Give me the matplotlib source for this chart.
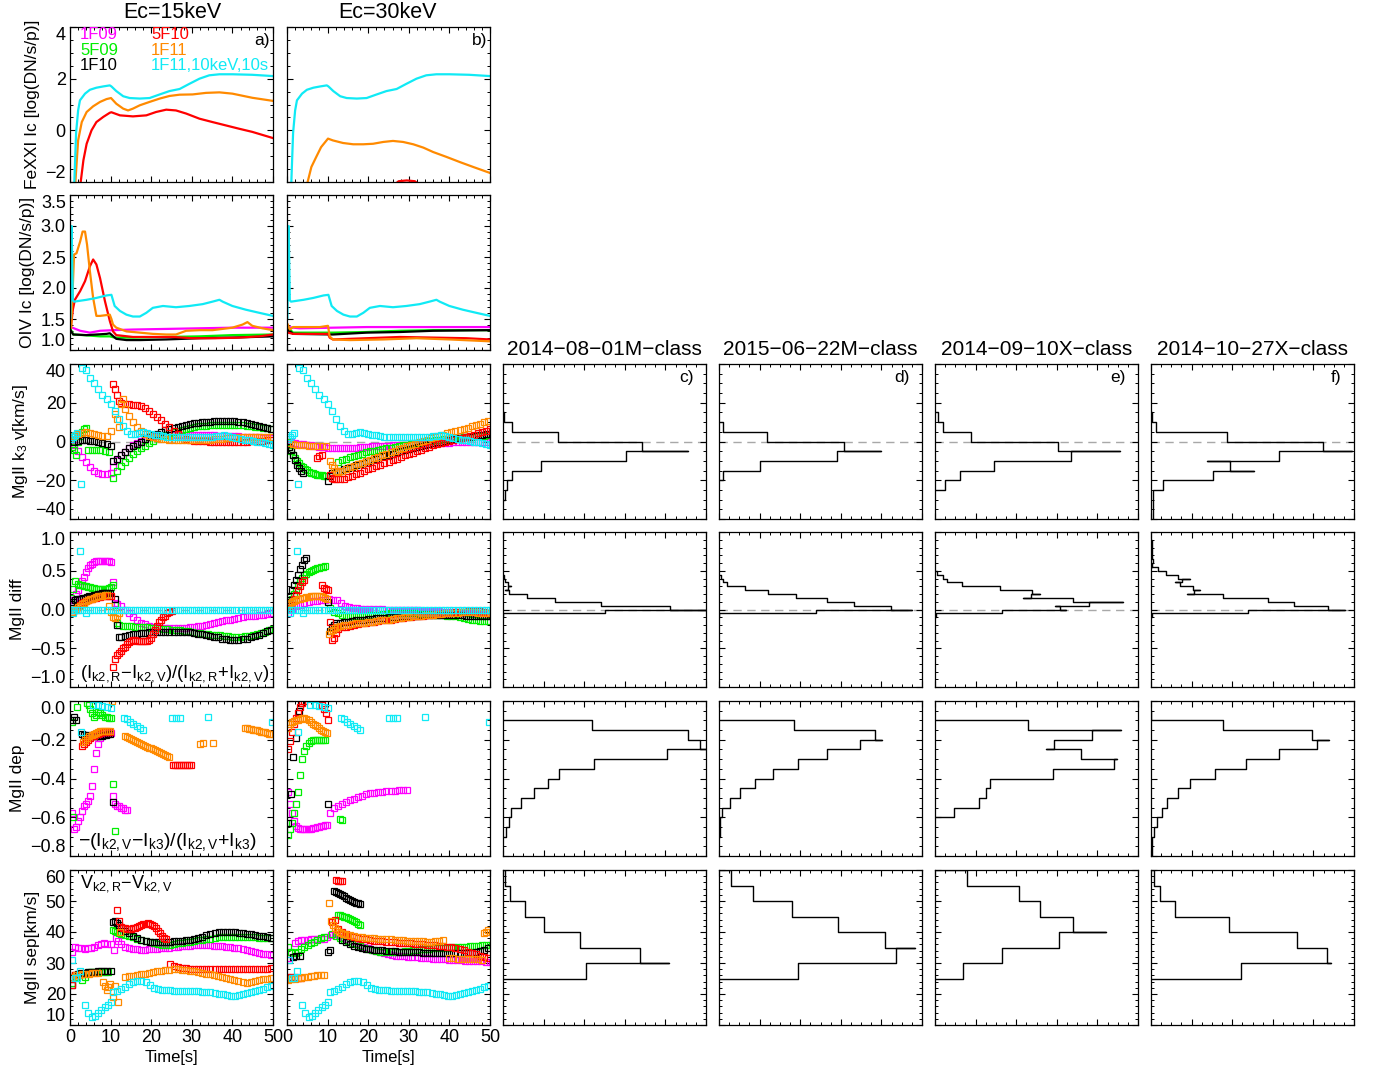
import numpy as np
import matplotlib
matplotlib.use('Agg')
import matplotlib.pyplot as plt
from matplotlib.ticker import MultipleLocator, FuncFormatter

plt.rcParams['font.family'] = ['Liberation Sans', 'DejaVu Sans']
plt.rcParams['mathtext.fontset'] = 'custom'
plt.rcParams['mathtext.rm'] = 'Liberation Sans'
plt.rcParams['mathtext.it'] = 'Liberation Sans:italic'

MAG, GRN, BLK, RED, ORG, CYN = '#ff00ff', '#00ee00', '#000000', '#ff0000', '#ff8a00', '#10eaf5'

# ---------------- line data (rows 1-2): (time, value) ----------------
fe_cyn = ([1.0, 1.5, 2.0, 2.45, 3.7, 4.9, 6.5, 8.2, 9.8, 10.2, 11.4, 13.1, 14.7, 17.2, 19.6, 22.1, 24.5, 27.0,
           29.4, 31.9, 34.3, 36.8, 40.0, 44.9, 50.0],
          [-2.3, -0.1, 0.77, 1.16, 1.42, 1.57, 1.65, 1.70, 1.74, 1.70, 1.52, 1.32, 1.25, 1.23, 1.25, 1.39, 1.52, 1.60,
           1.80, 2.00, 2.13, 2.17, 2.17, 2.15, 2.10])
fe15_org = ([1.2, 2.0, 2.9, 4.1, 5.7, 7.4, 9.0, 10.1, 11.4, 13.1, 14.3, 15.5, 17.2, 19.6, 22.1, 24.5, 27.0, 30.2,
             33.5, 36.8, 40.0, 44.9, 50.0],
            [-2.3, -0.39, 0.32, 0.71, 0.93, 1.10, 1.21, 1.25, 1.03, 0.84, 0.77, 0.84, 0.97, 1.10, 1.23, 1.33, 1.38, 1.39,
             1.45, 1.47, 1.42, 1.26, 1.14])
fe15_red = ([2.4, 3.3, 4.1, 5.3, 6.5, 8.2, 9.8, 10.2, 12.3, 15.5, 18.8, 21.2, 23.7, 26.1, 28.6, 31.9, 35.1, 38.4,
             41.7, 44.9, 50.0],
            [-2.3, -1.16, -0.52, 0.0, 0.32, 0.52, 0.68, 0.70, 0.58, 0.54, 0.58, 0.71, 0.80, 0.77, 0.65, 0.45, 0.32, 0.19,
             0.06, -0.06, -0.30])
fe30_org = ([4.6, 6.0, 7.2, 8.4, 10.1, 11.3, 13.8, 16.3, 18.8, 21.2, 23.7, 26.1, 28.6, 31.1, 33.6, 36.0, 39.3, 42.6,
             45.9, 50.0],
            [-2.3, -1.42, -1.03, -0.65, -0.32, -0.39, -0.49, -0.54, -0.54, -0.52, -0.45, -0.41, -0.45, -0.54, -0.67, -0.84,
             -1.03, -1.23, -1.42, -1.65])
fe30_red = ([26.5, 27.5, 29.5, 31.5, 32.5], [-2.1, -1.97, -1.94, -1.97, -2.1])

oiv_cyn = ([0.1, 0.4, 0.7, 1.0, 4.1, 6.5, 9.0, 10.2, 11.0, 12.3, 13.9, 15.5, 17.2, 18.8, 20.4, 22.9, 26.1, 29.4,
            32.7, 35.1, 36.8, 37.6, 40.0, 43.3, 46.6, 50.0],
           [1.52, 3.0, 1.80, 1.78, 1.81, 1.84, 1.88, 1.89, 1.71, 1.63, 1.57, 1.54, 1.54, 1.60, 1.68, 1.71, 1.69, 1.71,
            1.74, 1.78, 1.81, 1.78, 1.71, 1.65, 1.60, 1.55])
oiv15_org = ([0.3, 1.0, 1.6, 2.5, 3.1, 3.7, 4.2, 4.9, 5.7, 6.5, 7.4, 9.8, 10.2, 10.6, 11.4, 13.9, 17.2, 20.4, 23.7,
              26.1, 28.6, 31.9, 35.1, 40.0, 42.5, 43.7, 44.9, 47.4, 50.0],
             [1.36, 2.54, 2.56, 2.75, 2.91, 2.91, 2.70, 2.27, 1.84, 1.55, 1.55, 1.57, 1.50, 1.41, 1.36, 1.30, 1.28, 1.26,
              1.25, 1.25, 1.31, 1.32, 1.32, 1.36, 1.41, 1.45, 1.39, 1.35, 1.32])
oiv15_red = ([0.2, 0.7, 1.2, 2.5, 3.7, 4.9, 5.7, 6.5, 7.4, 8.6, 9.8, 10.6, 11.4, 15.5, 20.4, 25.3, 30.2, 35.9, 41.7,
              46.6, 50.0],
             [1.36, 1.65, 1.81, 1.95, 2.11, 2.35, 2.46, 2.38, 2.16, 1.79, 1.47, 1.30, 1.24, 1.21, 1.21, 1.21, 1.19, 1.19,
              1.20, 1.22, 1.25])
oiv15_mag = ([0.2, 2.5, 4.9, 7.4, 10.6, 15.5, 23.7, 31.9, 40.0, 50.0],
             [1.37, 1.31, 1.28, 1.31, 1.32, 1.33, 1.34, 1.35, 1.36, 1.36])
oiv15_grn = ([0.2, 0.8, 3.3, 7.4, 9.8, 11.0, 15.5, 23.7, 31.9, 40.0, 50.0],
             [1.33, 1.25, 1.24, 1.22, 1.22, 1.20, 1.20, 1.21, 1.22, 1.24, 1.25])
oiv15_blk = ([0.2, 0.8, 4.1, 9.0, 9.8, 11.4, 13.9, 17.2, 23.7, 31.9, 40.0, 50.0],
             [1.31, 1.25, 1.24, 1.26, 1.27, 1.18, 1.16, 1.16, 1.17, 1.19, 1.20, 1.22])
oiv30_org = ([0.2, 0.7, 1.5, 4.8, 8.1, 10.1, 10.5, 11.3, 15.5, 23.7, 31.9, 40.1, 50.0],
             [1.41, 1.33, 1.37, 1.37, 1.37, 1.39, 1.22, 1.17, 1.16, 1.17, 1.19, 1.17, 1.14])
oiv30_red = ([0.2, 1.5, 10.1, 10.5, 11.3, 19.6, 27.8, 36.0, 44.2, 50.0],
             [1.28, 1.26, 1.26, 1.20, 1.17, 1.19, 1.21, 1.20, 1.19, 1.17])
oiv30_mag = ([0.2, 3.1, 11.3, 19.6, 27.8, 50.0], [1.37, 1.35, 1.36, 1.37, 1.37, 1.37])
oiv30_grn = ([0.2, 1.5, 7.2, 11.3, 19.6, 27.8, 36.0, 50.0], [1.36, 1.28, 1.28, 1.28, 1.29, 1.31, 1.32, 1.32])
oiv30_blk = ([0.2, 1.5, 11.3, 19.6, 27.8, 36.0, 50.0], [1.33, 1.26, 1.25, 1.28, 1.29, 1.31, 1.32])

# ---------------- square-marker data: segments (t_start, cadence, values) ----------------
# MgII k3 velocity
v_cyn = [(0.3, 0.5, [1.5, 2.5, 3.5, 4.5]), (2.6, 1, [-22.0]),
         (3, 1, [38, 37, 33, 30, 27, 24, 22, 19.5, 16, 11.7, 8, 5.2, 4, 4, 4.5, 4.8, 4.3, 3.8, 3.4, 3.1, 2.8, 2.5,
                 2.2, 2.2, 2.2, 2.2, 2.2, 2.2, 2.2, 2.2, 2.2, 2.3, 2.5, 2.8, 3.0, 3.1, 2.7, 2.2, 1.8, 1.4, 1.0, 0.7,
                 0.3, -0.1, -0.5, -0.9, -1.3, -1.7])]
v15_mag = [(0, 1, [0, -2, -5, -8, -10.5, -13, -15, -16, -17, -17, -16.5]),
           (10.5, 1, [-13, -9.8, -7.2, -5.2, -3.5, -2, -0.7, 0.5, 1.3, 2.2, 2.7, 3, 3.1, 3.2, 3.2, 3.2, 3.2, 3.2, 3.2,
                      3.2, 3.2, 3.2, 3.2, 3.2, 3.2, 3.1, 3, 3, 2.9, 2.8, 2.7, 2.6, 2.5, 2.4, 2.3, 2.2, 2.1, 2, 1.9, 1.8])]
v15_grn = [(0.5, 0.5, [-3, -4.5, -7]), (2, 0.5, [0, 3, 5, 6.3, 6.8]), (4.5, 1, [-4.6, -4.2, -4.4, -4.6, -5.1, -5.4]),
           (10.5, 1, [-19, -15, -12.5, -10.5, -8.4, -6.6, -5, -3.6, -2.2, -0.7, 0.5, 1.7, 2.6, 3.4, 4.3, 5, 5.6, 6.1,
                      6.6, 7, 7.4, 7.8, 8, 8.2, 8.4, 8.5, 8.6, 8.7, 8.7, 8.7, 8.6, 8.4, 8.3, 8.1, 7.9, 7.7, 7.5, 7.2,
                      7.0, 6.7])]
v15_blk = [(1, 1, [-0.3, 0.2, 0.6, 0.6, 0.4, 0.1, -0.3, -0.8, -1.3, -2.2]),
           (10.5, 1, [-10, -8.8, -7.2, -5.2, -3.5, -2.2, -1.2, -0.3, 1.1, 2.3, 3.3, 4.1, 4.9, 5.7, 6.3, 6.9, 7.5, 8.1,
                      8.6, 9.0, 9.3, 9.6, 9.9, 10.1, 10.3, 10.5, 10.6, 10.6, 10.6, 10.6, 10.5, 10.3, 10, 9.7, 9.2, 8.6,
                      8.0, 7.5, 7.0, 6.7])]
v15_red = [(10.5, 0.5, [29.5, 27, 24, 21]),
           (12.5, 1, [20, 19.5, 19.3, 19, 18.7, 18.2, 17.2, 16, 14.4, 12.8, 11, 9, 7.3, 5.5, 3.8, 2.5, 1.5, 0.8, 0.5,
                      0.3, 0.2, 0.1, 0, 0, 0, 0, 0, 0, 0, 0, 0, 0, 0.1, 0.2, 0.3, 0.5, 0.7, 1.0])]
v15_org = [(0, 1, [1.5, 2.8, 4, 4.6, 4.9, 4.5, 4, 3.5, 3, 2.7, 5.5]), (11, 0.5, [14.4, 11.8, 7.5, 19.6, 22]),
           (13.5, 1, [17, 13, 10, 7.5, 5.5, 4, 3, 2.3, 1.8, 1.5, 1.2, 1, 0.8, 0.7, 0.6, 0.6, 0.6, 0.6, 0.7, 0.8, 0.9,
                      1, 1.1, 1.3, 1.5, 1.7, 1.9, 2, 2.1, 2.2, 2.3, 2.3, 2.3, 2.3, 2.3, 2.3, 2.3])]
v30_mag = [(0, 1, [0, -0.5, -0.9, -1.1, -1.4, -1.7, -2, -2.3, -2.6, -2.9, -3.1, -3.3, -3.4, -3.4, -3.4, -3.4, -3.3,
                   -3.2, -3.0, -2.8, -2.6, -2.5, -2.4, -2.3, -2.2, -2.1, -2.0, -1.9, -1.8, -1.7, -1.6, -1.5, -1.4,
                   -1.3, -1.2, -1.1, -1.0, -0.9, -0.8, -0.7, -0.6, -0.5, -0.4, -0.3, -0.2, -0.1, 0, 0, 0, 0, 0])]
v30_grn = [(0, 0.5, [0, -3, -5, -7, -8.5, -10, -11.3, -12.5, -13.4, -14.2, -14.9, -15.5, -16, -16.4, -16.8, -17.1,
                     -17.3, -17.5, -17.6, -17.6]),
           (12.5, 1, [-10.5, -9.8, -8.9, -8.0, -7.4, -6.8, -6.2, -5.5, -5.1, -4.7, -4.3, -3.9, -3.5, -3.1, -2.7, -2.4,
                      -2.0, -1.7, -1.3, -1.0, -0.6, -0.3, 0.1, 0.4, 0.7, 0.9, 1.1, 1.3, 1.5, 1.7, 1.9, 2.1, 2.3, 2.5,
                      2.7, 2.9, 3.0, 3.2])]
v30_blk = [(0.5, 0.5, [-2.8, -4.6, -7.2, -9.8, -12, -13.5, -15, -16]), (10, 0.5, [-20.6, -17.9]),
           (11, 1, [-16.5, -15.8, -15.1, -14.4, -13.7, -13.0, -12.3, -11.6, -10.9, -10.2, -9.5, -8.8, -8.1, -7.4, -6.8,
                    -6.2, -5.6, -5.0, -4.4, -3.8, -3.3, -2.8, -2.3, -1.8, -1.3, -0.8, -0.4, 0, 0.4, 0.8, 1.2, 1.6, 1.9,
                    2.2, 2.5, 2.8, 3.1, 3.4, 3.7, 4.0])]
v30_red = [(7.5, 0.5, [-8.5, -7.5, -7.2]), (10.5, 0.5, [-17.5, -18.9, -19.6]),
           (12, 1, [-19.6, -19.6, -19.2, -18.4, -17.6, -16.8, -16.0, -15.2, -14.4, -13.6, -12.8, -12.0, -11.2, -10.4,
                    -9.6, -8.8, -8.0, -7.2, -6.5, -5.7, -5.0, -4.2, -3.5, -2.7, -2.0, -1.5, -0.9, -0.4, 0.2, 0.7, 1.2,
                    1.8, 2.3, 3.0, 3.6, 4.3, 5.0, 5.6, 6.3])]
v30_org = [(0.5, 1, [-1, -1.5, -2, -2, -2, -2.2, -2.3, -2.3, -2.3, -2.3]), (10.5, 0.5, [-10, -12, -13.5, -15]),
           (12.5, 1, [-15.8, -15.0, -14.2, -13.4, -12.6, -11.8, -11.0, -10.3, -9.5, -8.7, -7.9, -7.1, -6.3, -5.5, -4.7,
                      -3.9, -3.2, -2.5, -1.8, -1.1, -0.4, 0.3, 1.0, 1.7, 2.4, 3.0, 3.6, 4.2, 4.8, 5.4, 5.9, 6.5, 7.1,
                      7.8, 8.5, 9.2, 9.9, 10.6])]

# MgII k2 asymmetry (diff)
d_cyn = [(0, 1, [0.0, 0.0, 0.0, 0.0, 0.0, 0.0, 0.0, 0.0, 0.0, 0.0, 0.0, 0.0, 0.0, 0.0, 0.0, 0.0, 0.0, 0.0, 0.0, 0.0,
                 0.0, 0.0, 0.0, 0.0, 0.0, 0.0, 0.0, 0.0, 0.0, 0.0, 0.0, 0.0, 0.0, 0.0, 0.0, 0.0, 0.0, 0.0, 0.0, 0.0,
                 0.0, 0.0, 0.0, 0.0, 0.0, 0.0, 0.0, 0.0, 0.0, 0.0, 0.0]),
         (0.8, 1, [-0.04]), (2.5, 1, [0.76]), (4.0, 1, [-0.04])]
d15_mag = [(0.5, 0.5, [0.04, 0.12, 0.2, 0.25, 0.31, 0.37, 0.42, 0.48, 0.53, 0.57, 0.59, 0.61, 0.62, 0.63, 0.63, 0.63,
                       0.63, 0.62, 0.62, 0.61]),
           (10.5, 0.5, [0.35, 0.08]),
           (11.5, 1, [0.07, 0.05, 0.0, -0.05, -0.1, -0.14, -0.17, -0.19, -0.21, -0.22, -0.23, -0.235, -0.24, -0.24,
                      -0.24, -0.24, -0.24, -0.235, -0.23, -0.22, -0.215, -0.21, -0.2, -0.19, -0.175, -0.165, -0.15,
                      -0.14, -0.13, -0.12, -0.11, -0.1, -0.09, -0.085, -0.08, -0.07, -0.065, -0.06, -0.05])]
d15_grn = [(0.3, 0.5, [0.15, 0.27, 0.37]),
           (2, 0.5, [0.33, 0.32, 0.31, 0.3, 0.3, 0.29, 0.29, 0.28, 0.28, 0.27, 0.27, 0.27, 0.27, 0.27, 0.27, 0.28, 0.29]),
           (10.5, 0.5, [0.32, 0.06, -0.18]),
           (12, 1, [-0.2, -0.21, -0.21, -0.215, -0.22, -0.22, -0.225, -0.23, -0.235, -0.24, -0.245, -0.25, -0.255,
                    -0.26, -0.265, -0.27, -0.275, -0.28, -0.29, -0.3, -0.305, -0.31, -0.32, -0.325, -0.33, -0.335,
                    -0.34, -0.345, -0.35, -0.35, -0.35, -0.345, -0.34, -0.33, -0.32, -0.3, -0.29, -0.27, -0.25])]
d15_blk = [(0.3, 0.5, [0.07, 0.1, 0.12, 0.13, 0.14, 0.14, 0.15, 0.15, 0.16, 0.17, 0.18, 0.19, 0.19, 0.2, 0.2, 0.21,
                       0.21, 0.21, 0.21, 0.21]),
           (11, 0.5, [0.13, -0.2, -0.35]),
           (12.5, 1, [-0.35, -0.34, -0.33, -0.32, -0.31, -0.305, -0.3, -0.295, -0.29, -0.29, -0.29, -0.29, -0.29,
                      -0.29, -0.29, -0.29, -0.29, -0.295, -0.3, -0.31, -0.32, -0.33, -0.34, -0.35, -0.36, -0.375,
                      -0.385, -0.39, -0.39, -0.39, -0.385, -0.375, -0.36, -0.345, -0.325, -0.3, -0.28, -0.26])]
d15_red = [(0.5, 0.5, [-0.03, -0.01, 0.0, 0.03, 0.06, 0.08, 0.1, 0.11, 0.12, 0.13, 0.14, 0.15, 0.15, 0.16, 0.16,
                       0.17, 0.17, 0.18, 0.18, 0.18]),
           (10.5, 0.5, [-0.74, -0.64, -0.59, -0.56, -0.53, -0.5, -0.48, -0.45, -0.42, -0.4, -0.39, -0.39, -0.4, -0.4,
                        -0.4, -0.4, -0.4, -0.4, -0.39, -0.37, -0.31, -0.26, -0.21, -0.16, -0.13, -0.1, -0.08, -0.05,
                        -0.03, -0.02])]
d15_org = [(0.5, 0.5, [-0.03, -0.01, 0.01, 0.03, 0.05, 0.07, 0.09, 0.11, 0.12, 0.13, 0.14, 0.15, 0.16, 0.17, 0.18,
                       0.18, 0.19, 0.19]),
           (9.5, 0.5, [0.04, -0.03, -0.1, -0.11, -0.08, -0.05])]
d30_mag = [(0.3, 1, [-0.04, 0.01, 0.04, 0.06, 0.08, 0.095, 0.105, 0.115, 0.12, 0.125, 0.13, 0.125, 0.12, 0.08, 0.05,
                     0.03, 0.02, 0.015, 0.01, 0.01, 0.008, 0.006, 0.004, 0.002, 0.0, 0.0, 0.0, 0.0, -0.002, -0.005,
                     -0.008, -0.01, -0.012, -0.015, -0.018, -0.02, -0.022, -0.025, -0.028, -0.03, -0.033, -0.036,
                     -0.038, -0.04, -0.042, -0.045, -0.047, -0.05, -0.05, -0.05])]
d30_grn = [(0.3, 0.5, [0.06, 0.09, 0.14, 0.2, 0.25, 0.31, 0.37, 0.41, 0.44, 0.46, 0.48, 0.5, 0.51, 0.52, 0.53, 0.54,
                       0.55, 0.55, 0.56]),
           (10.5, 1, [0.02, -0.03, -0.05, -0.07, -0.08, -0.09, -0.09, -0.09, -0.085, -0.08, -0.075, -0.07, -0.065,
                      -0.06, -0.055, -0.05, -0.05, -0.05, -0.05, -0.05, -0.05, -0.05, -0.055, -0.055, -0.06, -0.06,
                      -0.065, -0.07, -0.075, -0.08, -0.085, -0.09, -0.1, -0.11, -0.12, -0.13, -0.14, -0.145, -0.15,
                      -0.15])]
d30_blk = [(0.3, 0.5, [0.12, 0.18, 0.25, 0.31, 0.38, 0.45, 0.52, 0.58, 0.64, 0.66]),
           (10, 0.5, [0.1, -0.28, -0.22, -0.2]),
           (12, 1, [-0.18, -0.17, -0.16, -0.155, -0.15, -0.14, -0.135, -0.13, -0.125, -0.12, -0.115, -0.11, -0.105,
                    -0.1, -0.1, -0.095, -0.09, -0.09, -0.085, -0.08, -0.08, -0.075, -0.07, -0.07, -0.065, -0.065,
                    -0.065, -0.065, -0.07, -0.07, -0.075, -0.075, -0.08, -0.08, -0.085, -0.085, -0.09, -0.09, -0.09])]
d30_red = [(0.3, 0.5, [0.02, 0.06, 0.1, 0.14, 0.19, 0.25, 0.3, 0.35, 0.38]), (8.5, 0.5, [0.31, 0.28, 0.26, 0.25]),
           (10.5, 0.5, [-0.16, -0.39, -0.37, -0.3]),
           (12.5, 1, [-0.25, -0.23, -0.22, -0.21, -0.2, -0.19, -0.18, -0.17, -0.16, -0.155, -0.15, -0.14, -0.135,
                      -0.13, -0.12, -0.115, -0.11, -0.1, -0.095, -0.09, -0.085, -0.08, -0.07, -0.065, -0.06, -0.055,
                      -0.05, -0.045, -0.04, -0.035, -0.03, -0.03, -0.025, -0.02, -0.02, -0.025, -0.03, -0.04])]
d30_org = [(0.3, 0.5, [0.06, 0.08, 0.1, 0.11, 0.12, 0.13, 0.14, 0.15, 0.15, 0.16, 0.16, 0.17, 0.17, 0.17, 0.17, 0.17,
                       0.17, 0.16, 0.15, 0.13]),
           (10.3, 0.5, [-0.31, -0.28, -0.26, -0.24, -0.22]),
           (13, 1, [-0.21, -0.2, -0.2, -0.19, -0.18, -0.175, -0.17, -0.16, -0.155, -0.15, -0.14, -0.135, -0.13, -0.12,
                    -0.115, -0.11, -0.1, -0.095, -0.09, -0.085, -0.08, -0.075, -0.07, -0.065, -0.06, -0.055, -0.05,
                    -0.045, -0.04, -0.04, -0.035, -0.03, -0.03, -0.035, -0.04, -0.045, -0.05, -0.05])]

# MgII k3 depth (dep)
p_cyn = [(2.7, 1, [-0.16]), (5.7, 1.1, [-0.02, -0.02, -0.025, -0.03, -0.035]),
         (13.2, 0.8, [-0.09, -0.095, -0.11, -0.12, -0.13, -0.14, -0.15]), (25, 1, [-0.09, -0.09, -0.09]),
         (34, 1, [-0.08]), (49.8, 1, [-0.11])]
p15_mag = [(0.5, 0.5, [-0.58, -0.66, -0.65, -0.62, -0.6, -0.57, -0.54, -0.53, -0.515, -0.49, -0.44, -0.35, -0.27,
                       -0.22, -0.19, -0.175, -0.17, -0.17, -0.165, -0.165]),
           (10.5, 0.5, [-0.49, -0.53, -0.54, -0.54, -0.55, -0.55, -0.56, -0.565])]
p15_grn = [(0.6, 1, [-0.11]), (0.8, 1, [-0.6]), (1.8, 1, [-0.03]), (4.2, 0.5, [-0.01, -0.02]),
           (5.0, 0.5, [-0.04, -0.06, -0.08, -0.07, -0.055, -0.06, -0.07, -0.08, -0.085, -0.09, -0.09]),
           (10.6, 1, [-0.43]), (11.2, 1, [-0.67])]
p15_blk = [(0.5, 0.5, [-0.1, -0.085, -0.1]),
           (2.9, 0.5, [-0.17, -0.175, -0.18, -0.175, -0.18, -0.18, -0.18, -0.18, -0.18, -0.18, -0.18, -0.175, -0.175,
                       -0.17, -0.17]),
           (10.6, 1, [-0.52])]
p15_red = [(2.9, 0.5, [-0.23, -0.22, -0.21, -0.2, -0.19, -0.18, -0.18, -0.17, -0.17, -0.165, -0.16, -0.16, -0.16,
                       -0.16, -0.16]),
           (25.3, 0.5, [-0.33, -0.33, -0.33, -0.33, -0.33, -0.33, -0.33, -0.33, -0.33, -0.33])]
p15_org = [(3.3, 0.5, [-0.21, -0.2, -0.19, -0.18, -0.175, -0.17, -0.165, -0.16, -0.155, -0.155, -0.155, -0.155,
                       -0.155, -0.155]),
           (10.3, 1, [0.0]),
           (13.5, 0.5, [-0.18, -0.185, -0.19, -0.195, -0.2, -0.205, -0.21, -0.215, -0.22, -0.225, -0.23, -0.235,
                        -0.24, -0.245, -0.25, -0.255, -0.26, -0.265, -0.27, -0.275, -0.28, -0.285, -0.29]),
           (31.9, 0.8, [-0.22, -0.215]), (35.1, 1, [-0.215]),
           (43, 0.5, [-0.14, -0.14, -0.142, -0.145, -0.148, -0.15, -0.152, -0.155, -0.158, -0.16, -0.162, -0.165,
                      -0.168, -0.17])]
p30_mag = [(0.3, 0.5, [-0.47, -0.53, -0.58, -0.62, -0.645, -0.655, -0.66, -0.66, -0.66, -0.66, -0.66, -0.66, -0.655,
                       -0.655, -0.65, -0.65, -0.645, -0.645, -0.64, -0.64]),
           (10.5, 1, [-0.58, -0.55, -0.54, -0.53, -0.52, -0.51, -0.505, -0.495, -0.488, -0.48, -0.477, -0.474,
                      -0.471, -0.468, -0.466, -0.464, -0.462, -0.46, -0.458, -0.457])]
p30_grn = [(0.3, 0.5, [-0.69, -0.66, -0.63, -0.58, -0.53, -0.47, -0.38, -0.3, -0.26, -0.23, -0.215, -0.205, -0.2,
                       -0.2, -0.2, -0.2, -0.2, -0.2, -0.2]),
           (13, 0.6, [-0.61, -0.615])]
p30_blk = [(0.3, 0.65, [-0.63, -0.48, -0.29, -0.19, -0.05, -0.01]), (10.1, 1, [-0.53])]
p30_red = [(0.3, 0.5, [-0.25, -0.205, -0.16, -0.12, -0.09, -0.06, -0.03, -0.01, 0.0]),
           (8.7, 0.5, [-0.02, -0.04, -0.06, -0.1])]
p30_org = [(0.3, 0.5, [-0.14, -0.12, -0.11, -0.105, -0.1, -0.1, -0.095, -0.09, -0.09, -0.095, -0.1, -0.11, -0.12,
                       -0.125, -0.13, -0.14, -0.15, -0.155, -0.16, -0.165])]

# MgII k2 peak separation (sep)
s_cyn = [(0.4, 1, [31.0]), (1.2, 0.6, [25.2, 25.2]), (2.4, 1, [27.5]),
         (3.7, 0.8, [16.4, 14.0, 12.7, 12.9, 13.8, 14.8, 15.7, 16.6, 17.5]),
         (10.6, 1, [20.8, 20.9, 21.6, 22.4, 23.2, 23.8, 24.1, 24.2, 23.8, 22.8, 22.0, 21.6, 21.4, 21.3, 21.2, 21.1,
                    21.1, 21.0, 21.0, 21.0, 20.9, 20.9, 20.8, 20.8, 20.6, 20.4, 20.1, 19.9, 19.6, 19.4, 19.4, 19.7,
                    20.0, 20.3, 20.7, 21.0, 21.3, 21.7, 22.1, 22.5])]
s15_mag = [(0.4, 0.8, [33.7, 35.3, 35, 34.8, 34.6, 34.7, 34.9, 35.3, 35.7, 36.1, 36.3, 36.2, 36]),
           (10.8, 0.5, [34.2, 38, 37]),
           (12.5, 1, [36, 35.3, 34.9, 34.6, 34.4, 34.3, 34.3, 34.4, 34.5, 34.6, 34.8, 34.9, 35, 35.1, 35.3, 35.4,
                      35.5, 35.6, 35.7, 35.8, 35.8, 35.8, 35.7, 35.6, 35.5, 35.4, 35.3, 35.1, 34.9, 34.7, 34.5, 34.2,
                      33.9, 33.6, 33.3, 33.0, 32.8, 32.6])]
s15_grn = [(0.6, 0.8, [23.4, 25.6, 26.1, 24.5, 25.5, 27.2, 27.2, 27.2, 27.2, 27.2, 27.2, 27.2]),
           (10.6, 0.5, [40.6, 40.3, 40, 39.6]),
           (12.6, 1, [39.3, 39, 38.7, 38.3, 37.9, 37.5, 37.1, 36.7, 36.4, 36.1, 35.9, 35.8, 35.9, 36.1, 36.3, 36.5,
                      36.7, 36.9, 37.1, 37.3, 37.5, 37.7, 37.9, 38.1, 38.3, 38.4, 38.5, 38.5, 38.5, 38.5, 38.5, 38.4,
                      38.3, 38.3, 38.2, 38.2, 38.1, 38])]
s15_blk = [(0.4, 0.8, [22.9, 26.1, 26.5, 26.7, 26.9, 27, 27.1, 27.2, 27.3, 27.4, 27.4, 27.4, 27.4]),
           (10.6, 0.5, [43.3, 43.5, 43, 42.3]),
           (12.6, 1, [41.3, 40.4, 39.6, 38.8, 38, 37.5, 37.1, 36.9, 36.8, 36.7, 36.7, 36.8, 36.9, 37, 37.1, 37.2,
                      37.3, 37.5, 37.8, 38.1, 38.5, 38.9, 39.3, 39.6, 39.9, 40, 40.1, 40.1, 40, 39.8, 39.6, 39.4, 39.2,
                      39, 38.8, 38.6, 38.4, 38.2])]
s15_red = [(0.6, 0.6, [22.9, 26.1]),
           (11.6, 0.5, [47.1, 43.5, 41.5, 41.2, 41.2, 41.1, 41.1, 41.1, 41.2, 41.3, 41.5, 41.8, 42.2, 42.5, 42.7,
                        42.8, 42.7, 42.4, 41.9, 41.2, 40.4, 39.6, 38.8, 38.1, 37.6]),
           (24.6, 1, [29.6, 29.1, 28.7, 28.5, 28.3, 28.2, 28.1, 28.1, 28.1, 28.1, 28.1, 28.1, 28.1, 28.1, 28.1, 28.1,
                      28.1, 28.1, 28.1, 28.1, 28.1, 28.1, 28.1, 28.2, 28.2, 28.3])]
s15_org = [(0.6, 0.8, [25.6, 26.1, 26.2, 26.3, 26.5, 26.6, 26.7, 26.7, 26.7]),
           (8.2, 0.4, [24, 22.5, 21.3, 22.4, 23.1]), (10.6, 0.6, [19.1, 22.5, 17.5]), (12.3, 1, [40.1]),
           (13.5, 1, [25.6, 25.7, 25.9, 26.1, 26.4, 26.6, 26.8, 27.0, 27.3, 27.5, 27.7, 27.9, 28.1, 28.1, 27.9, 27.7,
                      27.5, 27.3, 27.1, 26.8, 26.6, 26.3, 26.1, 25.8, 25.5, 25.3, 25.0, 24.6, 24.2, 23.8, 23.4, 23.8,
                      24.1, 24.4, 24.7, 25.0, 25.3])]
s30_mag = [(0.3, 0.8, [31.5, 33.7, 36.3, 37.1, 37.3, 37.4, 37.5, 37.6, 37.7, 37.7, 37.7, 37.7]),
           (9.9, 1, [38.5, 39, 39.2, 38.9, 38.5, 37.9, 37.2, 36.5, 35.8, 35.2, 34.7, 34.2, 33.8, 33.4, 33.1, 32.8,
                     32.5, 32.3, 32.2, 32.1, 32, 31.9, 31.8, 31.7, 31.6, 31.5, 31.4, 31.3, 31.3, 31.2, 31.1, 31, 31,
                     30.9, 30.8, 30.7, 30.6, 30.5, 30.5, 30.4, 30.4])]
s30_grn = [(0.3, 0.8, [35.3, 33.7, 33.3, 33.5, 34.5, 35.2, 35.8, 36.3, 36.9, 37.4, 38, 38.4]),
           (12.5, 0.5, [45.5, 45.4, 45.2, 45, 44.8, 44.6, 44.3, 44.0, 43.6, 43.1, 42.6, 42.1]),
           (11, 1, [39.5, 38.8, 38.1, 37.5, 37.0, 36.5, 36.0, 35.5, 35.0, 34.5, 34.1, 33.8, 33.5, 33.4, 33.4, 33.5,
                    33.6, 33.7, 33.8, 34.0, 34.1, 34.2, 34.4, 34.5, 34.6, 34.7, 34.8, 34.9, 35.0, 35.0, 35.1, 35.2,
                    35.3, 35.3, 35.4, 35.5, 35.6, 35.7, 35.8, 35.8])]
s30_blk = [(1.5, 0.8, [32, 32.1, 32.3]), (10.1, 0.5, [33.7, 34.2]),
           (11.5, 0.5, [53.2, 52.8, 52.5, 52.2, 51.9, 51.5, 51.1, 50.7, 50.3, 50, 49.8, 49.5, 49.2, 48.9]),
           (13.5, 1, [37.5, 36.7, 36.0, 35.5, 35.1, 34.8, 34.6, 34.5, 34.3, 34.2, 34.1, 34.0, 33.9, 33.8, 33.7, 33.7,
                      33.6, 33.5, 33.4, 33.4, 33.3, 33.2, 33.2, 33.1, 33.1, 33.1, 33.1, 33.1, 33.1, 33.1, 33.1, 33.1,
                      33.2, 33.4, 33.8, 34.3, 34.8])]
s30_red = [(0.3, 0.8, [25.6, 25.6, 25.5, 25.3, 25.3]), (11.2, 0.5, [43.3, 43.9]), (12, 0.5, [56.8, 56.6, 56.5, 56.4]),
           (12.5, 1, [41, 40, 39.3, 38.7, 38.3, 38, 37.8, 37.6, 37.4, 37.2, 37.1, 37, 36.9, 36.8, 36.7, 36.6, 36.5,
                      36.4, 36.3, 36.2, 36.1, 36, 35.9, 35.8, 35.7, 35.6, 35.5, 35.3, 35.1, 34.8, 34.5, 34.1, 33.7,
                      33.3, 32.8, 32.3, 31.8, 31.5])]
s30_org = [(0.3, 0.8, [24.5, 24.8, 25, 25.1, 25.3, 25.5, 25.6, 25.8, 25.9, 26, 26.1, 26.1]), (10.3, 1, [49.5]),
           (10.9, 0.5, [43.5, 42.3, 41.2, 40.6, 40.1, 39.7, 39.4, 39.2, 39.0]),
           (15.5, 1, [38.9, 38.7, 38.5, 38.4, 38.2, 38.1, 38, 37.9, 37.8, 37.7, 37.6, 37.5, 37.4, 37.3, 37.2, 37.1,
                      37.1, 37, 37, 36.9, 36.9, 37, 37.2, 37.4]),
           (40, 1, [31.5, 31.5, 31.4, 31.4, 31.3, 31.3, 31.2, 31.2, 31.1]), (48.6, 0.5, [39.6, 40.1, 40.6])]

# ---------------- histograms: bin centres (top to bottom) and normalised counts [%] ----------------
hv_c = ([15, 10, 5, 0, -5, -10, -15, -20, -25, -30], [0, 1, 8, 46, 91, 30, 7, 2, 2, 0])
hv_d = ([10, 5, 0, -5, -10, -15, -20], [0, 4, 43, 80, 36, 4, 0])
hv_e = ([15, 10, 5, 0, -5, -10, -15, -20, -25], [0, 2.5, 5, 30, 91, 43, 15, 10, 0])
hv_f = ([15, 10, 5, 0, -5, -10, -15, -20, -25, -30, -35, -40], [0, 0.5, 4.7, 70, 99, 27.5, 50.5, 10.5, 1, 1, 1, 1])
hd_c = ([0.45, 0.4, 0.35, 0.3, 0.25, 0.2, 0.15, 0.1, 0.05, 0, -0.05, -0.1], [0, 1, 1, 4, 1, 5, 19, 32, 65, 100, 0, 0])
hd_d = ([0.45, 0.4, 0.35, 0.3, 0.25, 0.2, 0.15, 0.1, 0.05, 0, -0.05, -0.1],
        [0, 1.5, 2.3, 5.9, 20.1, 27.9, 47.7, 58.3, 74.3, 95.3, 0, 0])
hd_e = ([0.5, 0.45, 0.4, 0.35, 0.3, 0.25, 0.2, 0.15, 0.1, 0.05, 0, -0.05, -0.1],
        [0, 2.4, 5.8, 6.4, 19.8, 44.2, 51.8, 43.2, 92.8, 59, 64.6, 1, 0])
hd_f = ([0.9, 0.85, 0.8, 0.75, 0.7, 0.65, 0.6, 0.55, 0.5, 0.45, 0.4, 0.35, 0.3, 0.25, 0.2, 0.15, 0.1, 0.05, 0, -0.05, -0.1],
        [0, 0.5, 0.5, 0.5, 0.5, 0.5, 1, 0, 7, 8, 19, 12, 17, 24.3, 17.7, 53.1, 61.9, 78.5, 95.5, 0.5, 0])
hp_c = ([-0.1, -0.15, -0.2, -0.25, -0.3, -0.35, -0.4, -0.45, -0.5, -0.55, -0.6, -0.65, -0.7],
        [0, 88, 94.4, 100, 62, 28, 27.2, 17.6, 12.8, 4.8, 3.4, 3.0, 0])
hp_d = ([-0.1, -0.15, -0.2, -0.25, -0.3, -0.35, -0.4, -0.45, -0.5, -0.55, -0.6, -0.65, -0.7],
        [0, 73.5, 80.1, 59.1, 46.9, 30.5, 23.1, 12.3, 8.1, 2.9, 0.5, 0.7, 0])
hp_e = ([-0.1, -0.15, -0.2, -0.25, -0.3, -0.35, -0.4, -0.45, -0.5, -0.55, -0.6],
        [0, 91.7, 62.5, 54.7, 89.5, 87.3, 29.3, 25.3, 24.9, 18.7, 0])
hp_f = ([-0.05, -0.1, -0.15, -0.2, -0.25, -0.3, -0.35, -0.4, -0.45, -0.5, -0.55, -0.6, -0.65, -0.7, -0.75, -0.8],
        [0, 0.3, 70.9, 87.5, 76.3, 50, 44, 19, 19, 8, 8, 3, 2.6, 0.6, 0.6, 0.6])
hs_c = ([60, 55, 50, 45, 40, 35, 30, 25], [0, 2.2, 4.4, 17.6, 22.8, 53.4, 82, 0])
hs_d = ([60, 55, 50, 45, 40, 35, 30, 25], [0, 11.7, 21.5, 50.3, 67.3, 96.7, 77.9, 0])
hs_e = ([60, 55, 50, 45, 40, 35, 30, 25], [0, 31.4, 51, 52.4, 84, 38, 27.8, 0])
hs_f = ([60, 55, 50, 45, 40, 35, 30, 25], [0, 2.7, 5.7, 17.7, 58.9, 84.5, 88.9, 0])

flare_titles = ['2014\u221208\u221201M\u2212class', '2015\u221206\u221222M\u2212class',
                '2014\u221209\u221210X\u2212class', '2014\u221210\u221227X\u2212class']
panel_tags = ['c)', 'd)', 'e)', 'f)']
row_labels = ['FeXXI Ic [log(DN/s/p)]', 'OIV Ic [log(DN/s/p)]', r'MgII k$_3$ v[km/s]',
              'MgII diff', 'MgII dep', 'MgII sep[km/s]']
row_ylim = [(-2, 4), (1.0, 3.5), (-40, 40), (-1.0, 1.0), (-0.8, 0.0), (10, 60)]
row_major = [2, 0.5, 20, 0.5, 0.2, 10]
row_minor = [0.5, 0.1, 5, 0.1, 0.05, 2]
row_fmt = ['%d', '%.1f', '%d', '%.1f', '%.1f', '%d']

# ---------------- layout ----------------
fig = plt.figure(figsize=(13.8, 10.74), dpi=100)
FW, FH = 1380, 1074
col_x = [70, 287, 503, 719, 935, 1151]
row_y = [27, 195, 364, 532, 701, 870]
PW, PH = 203, 155


def add_panel(c, r):
    return fig.add_axes([col_x[c] / FW, 1 - (row_y[r] + PH) / FH, PW / FW, PH / FH])


def fmt_factory(f):
    def _f(v, pos):
        s = f % (0.0 if abs(v) < 1e-9 else v)
        return s.replace('-', '\u2212')
    return FuncFormatter(_f)


def style(ax, r, left_labels, bottom_labels, hist=False):
    lo, hi = row_ylim[r]
    ax.set_ylim(lo, hi)
    ax.set_yticks(np.arange(lo, hi + row_major[r] / 2, row_major[r]))
    ax.yaxis.set_minor_locator(MultipleLocator(row_minor[r]))
    ax.yaxis.set_major_formatter(fmt_factory(row_fmt[r]))
    if hist:
        ax.set_xlim(0, 100)
        ax.set_xticks(np.arange(0, 101, 20))
        ax.xaxis.set_minor_locator(MultipleLocator(5))
    else:
        ax.set_xlim(0, 50)
        ax.set_xticks(np.arange(0, 51, 10))
        ax.xaxis.set_minor_locator(MultipleLocator(2))
    ax.tick_params(which='both', direction='in', top=True, right=True, labelsize=13,
                   labelleft=left_labels, labelbottom=bottom_labels, pad=3)
    ax.tick_params(which='major', length=4.5, width=0.8)
    ax.tick_params(which='minor', length=2.2, width=0.7)
    for sp in ax.spines.values():
        sp.set_linewidth(0.9)
    if left_labels:
        labs = ax.get_yticklabels()
        labs[0].set_va('bottom')
        labs[-1].set_va('top')
        ax.set_ylabel(row_labels[r], fontsize=12.5, labelpad=4)


def expand(segs):
    t, v = [], []
    for t0, dt, vals in segs:
        for i, val in enumerate(vals):
            t.append(t0 + i * dt)
            v.append(val)
    return t, v


def squares(ax, segs, color):
    t, v = expand(segs)
    ax.plot(t, v, ls='none', marker='s', ms=3.8, mfc='none', mec=color, mew=0.9)


def idl_hist(ax, data):
    y, c = np.asarray(data[0], float), np.asarray(data[1], float)
    m = (c[:-1] + c[1:]) / 2
    xs, ys = [c[0]], [y[0]]
    for i in range(len(m)):
        xs += [m[i], m[i], c[i + 1]]
        ys += [y[i], y[i + 1], y[i + 1]]
    ax.plot(xs, ys, color='black', lw=1.0)


def zero_line(ax):
    ax.axhline(0, color='#a8a8a8', lw=1.0, ls=(0, (6, 4)), zorder=0.5)


line_rows = {
    0: ([fe15_red, fe15_org, fe_cyn], [fe30_red, fe30_org, fe_cyn], [RED, ORG, CYN]),
    1: ([oiv15_mag, oiv15_grn, oiv15_blk, oiv15_red, oiv15_org, oiv_cyn],
        [oiv30_mag, oiv30_grn, oiv30_blk, oiv30_red, oiv30_org, oiv_cyn], [MAG, GRN, BLK, RED, ORG, CYN]),
}
COLS6 = [MAG, GRN, BLK, RED, ORG, CYN]
scatter_rows = {
    2: ([v15_mag, v15_grn, v15_blk, v15_red, v15_org, v_cyn], [v30_mag, v30_grn, v30_blk, v30_red, v30_org, v_cyn]),
    3: ([d15_mag, d15_grn, d15_blk, d15_red, d15_org, d_cyn], [d30_mag, d30_grn, d30_blk, d30_red, d30_org, d_cyn]),
    4: ([p15_mag, p15_grn, p15_blk, p15_red, p15_org, p_cyn], [p30_mag, p30_grn, p30_blk, p30_red, p30_org, p_cyn]),
    5: ([s15_mag, s15_grn, s15_blk, s15_red, s15_org, s_cyn], [s30_mag, s30_grn, s30_blk, s30_red, s30_org, s_cyn]),
}
hist_rows = {2: [hv_c, hv_d, hv_e, hv_f], 3: [hd_c, hd_d, hd_e, hd_f],
             4: [hp_c, hp_d, hp_e, hp_f], 5: [hs_c, hs_d, hs_e, hs_f]}

for r in range(6):
    for c in range(2):
        ax = add_panel(c, r)
        if r in line_rows:
            series, cols = line_rows[r][c], line_rows[r][2]
            for (t, v), col in zip(series, cols):
                ax.plot(t, v, color=col, lw=1.6)
        else:
            if r in (2, 3):
                zero_line(ax)
            for segs, col in zip(scatter_rows[r][c], COLS6):
                squares(ax, segs, col)
        style(ax, r, left_labels=(c == 0), bottom_labels=(r == 5))
        if r == 5:
            ax.set_xlabel('Time[s]', fontsize=12, labelpad=3)
        if r == 0:
            ax.text(0.985, 0.96, 'a)' if c == 0 else 'b)', transform=ax.transAxes, ha='right', va='top', fontsize=12.5)
        if r == 3 and c == 0:
            ax.text(0.05, 0.02, r'$(\mathrm{I}_{\mathrm{k2,R}}\mathrm{-I}_{\mathrm{k2,V}})/'
                                r'(\mathrm{I}_{\mathrm{k2,R}}\mathrm{+I}_{\mathrm{k2,V}})$',
                    transform=ax.transAxes, ha='left', va='bottom', fontsize=13.3)
        if r == 4 and c == 0:
            ax.text(0.04, 0.02, r'$\mathrm{-(I}_{\mathrm{k2,V}}\mathrm{-I}_{\mathrm{k3}})/'
                                r'(\mathrm{I}_{\mathrm{k2,V}}\mathrm{+I}_{\mathrm{k3}})$',
                    transform=ax.transAxes, ha='left', va='bottom', fontsize=14)
        if r == 5 and c == 0:
            ax.text(0.05, 0.98, r'$\mathrm{V}_{\mathrm{k2,R}}\mathrm{-V}_{\mathrm{k2,V}}$',
                    transform=ax.transAxes, ha='left', va='top', fontsize=13)
        if r == 0 and c == 0:
            legend_items = [('1F09', MAG, 0.05, 0.95), ('5F09', GRN, 0.05, 0.85), ('1F10', BLK, 0.05, 0.75),
                            ('5F10', RED, 0.40, 0.95), ('1F11', ORG, 0.40, 0.85),
                            ('1F11,10keV,10s', CYN, 0.40, 0.75)]
            for txt, col, xx, yy in legend_items:
                ax.text(xx, yy, txt, color=col, transform=ax.transAxes, ha='left', va='center', fontsize=12)

    if r in hist_rows:
        for k in range(4):
            ax = add_panel(k + 2, r)
            if r in (2, 3):
                zero_line(ax)
            idl_hist(ax, hist_rows[r][k])
            style(ax, r, left_labels=False, bottom_labels=False, hist=True)
            if r == 2:
                ax.text(0.94, 0.96, panel_tags[k], transform=ax.transAxes, ha='right', va='top', fontsize=12.5)
                fig.text((col_x[k + 2] + PW / 2) / FW, 1 - 349 / FH, flare_titles[k],
                         ha='center', va='center', fontsize=15)

fig.text(172 / FW, 1 - 12 / FH, 'Ec=15keV', ha='center', va='center', fontsize=15.5)
fig.text(388 / FW, 1 - 12 / FH, 'Ec=30keV', ha='center', va='center', fontsize=15.5)

fig.savefig('out.png', dpi=100)
